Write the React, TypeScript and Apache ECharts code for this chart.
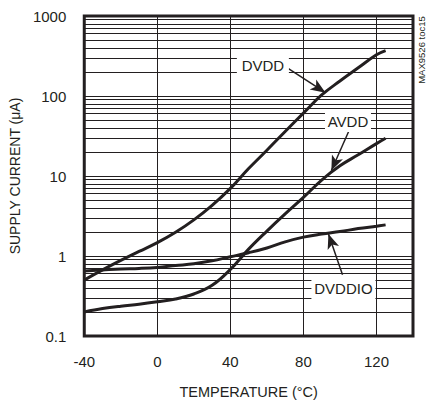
import React, { useEffect, useRef } from "react";
import * as echarts from "echarts";

const temps = [-40, -30, -20, -10, 0, 10, 20, 30, 40, 50, 60, 70, 80, 90, 100, 110, 120, 125];
const dvdd = [0.5, 0.67, 0.88, 1.14, 1.47, 1.98, 2.83, 4.3, 7.0, 12.4, 21, 36, 61, 103, 154, 225, 328, 370];
const avdd = [0.2, 0.22, 0.236, 0.25, 0.268, 0.29, 0.335, 0.43, 0.68, 1.22, 2.05, 3.36, 5.4, 8.9, 13.4, 18.4, 25.4, 29.6];
const dvddio = [0.65, 0.67, 0.69, 0.7, 0.72, 0.76, 0.8, 0.87, 0.98, 1.1, 1.26, 1.5, 1.72, 1.88, 2.02, 2.2, 2.36, 2.45];

const xTicks = [-40, 0, 40, 80, 120];
const decades = [0.1, 1, 10, 100];
const minorMultipliers = [2, 3, 4, 5, 6, 7, 8, 9];

// annotation labels: text and centre [temp, value]
const labelNames = ["DVDD", "AVDD", "DVDDIO"];
const labelPos = [[57.8, 240], [104.4, 48.6], [101.9, 0.395]];
const labelBox = [[52, 22], [46, 22], [64, 22]];
// arrows: from -> to (data coords)
const arrowFrom = [[71.8, 220], [104.7, 35.7], [101.4, 0.584]];
const arrowTo = [[92.1, 110], [95.3, 11.7], [93.7, 1.89]];

const FONT = "'Liberation Sans', Arial, sans-serif";
const INK = "#231f20";

export default function App() {
  const ref = useRef<HTMLDivElement>(null);
  useEffect(() => {
    if (!ref.current) return;
    const chart = echarts.init(ref.current, undefined, { renderer: "svg" });
    const mk = (vals: number[]) => temps.map((t, i) => [t, vals[i]]);
    const minorLines: any[] = [];
    decades.forEach((d) => minorMultipliers.forEach((m) => minorLines.push({ yAxis: +(d * m).toPrecision(3) })));
    const curveStyle = { color: INK, width: 3 };
    chart.setOption({
      animation: false,
      textStyle: { fontFamily: FONT },
      grid: { left: 84, top: 16, width: 329, height: 329, show: true, borderColor: INK, borderWidth: 3, backgroundColor: "transparent", z: 10 },
      xAxis: {
        type: "value", min: -40, max: 140, interval: 40,
        axisLine: { show: false }, axisTick: { show: false },
        splitLine: { show: true, lineStyle: { color: INK, width: 1 } },
        axisLabel: { margin: 18, fontSize: 15, color: INK, fontFamily: FONT, formatter: (v: number) => (xTicks.includes(v) ? String(v) : "") },
        name: "TEMPERATURE (°C)", nameLocation: "middle", nameGap: 48,
        nameTextStyle: { fontSize: 14.5, color: INK, fontFamily: FONT },
      },
      yAxis: {
        type: "log", logBase: 10, min: 0.1, max: 1000,
        axisLine: { show: false }, axisTick: { show: false },
        splitLine: { show: true, lineStyle: { color: INK, width: 1 } },
        axisLabel: { margin: 18, fontSize: 15, color: INK, fontFamily: FONT, formatter: (v: number) => String(+v.toPrecision(3)) },
        name: "SUPPLY CURRENT (μA)", nameLocation: "middle", nameGap: 57, nameRotate: 90,
        nameTextStyle: { fontSize: 14, color: INK, fontFamily: FONT },
      },
      graphic: [
        { type: "text", x: 421, y: 50, rotation: Math.PI / 2, style: { text: "MAX9526 toc15", fontSize: 9.5, fontFamily: FONT, fill: INK, align: "center", verticalAlign: "middle" } },
      ],
      series: [
        {
          type: "line", data: [], z: 1, silent: true,
          markLine: { silent: true, symbol: ["none", "none"], label: { show: false }, lineStyle: { color: INK, width: 1, type: "solid" }, data: minorLines },
        },
        { name: "DVDD", type: "line", data: mk(dvdd), smooth: 0.4, showSymbol: false, lineStyle: curveStyle, z: 3 },
        { name: "AVDD", type: "line", data: mk(avdd), smooth: 0.4, showSymbol: false, lineStyle: curveStyle, z: 3 },
        { name: "DVDDIO", type: "line", data: mk(dvddio), smooth: 0.4, showSymbol: false, lineStyle: curveStyle, z: 3 },
        {
          type: "line", data: [], z: 5, silent: true,
          markPoint: {
            silent: true,
            data: labelNames.map((n, i) => ({
              coord: labelPos[i], symbol: "rect", symbolSize: labelBox[i],
              itemStyle: { color: "#fff" },
              label: { show: true, position: "inside", formatter: n, fontSize: 15, color: INK, fontFamily: FONT },
            })),
          },
          markLine: {
            silent: true, symbol: ["none", "arrow"], symbolSize: [9, 15],
            label: { show: false },
            lineStyle: { color: INK, width: 1.5, type: "solid" },
            itemStyle: { color: INK },
            data: arrowFrom.map((f, i) => [{ coord: f }, { coord: arrowTo[i] }]),
          },
        },
      ],
    });
    return () => chart.dispose();
  }, []);
  return <div ref={ref} style={{ position: "absolute", left: 0, top: 0, width: 430, height: 404 }} />;
}
